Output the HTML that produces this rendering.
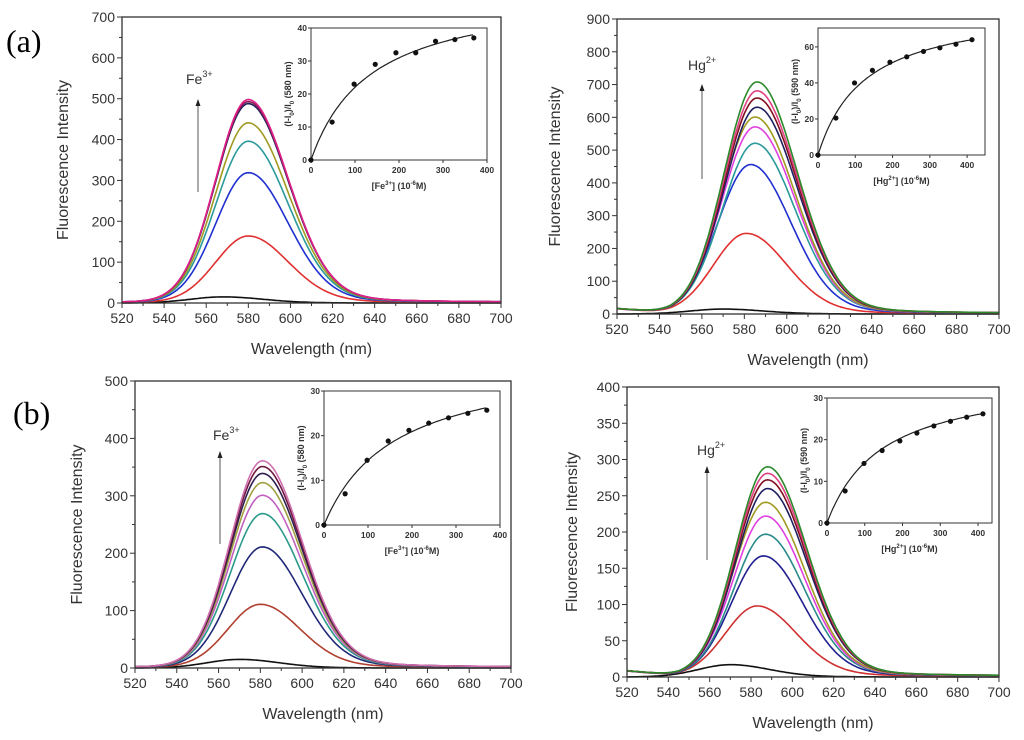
<!DOCTYPE html>
<html><head><meta charset="utf-8"><style>
body{margin:0;background:#fff;width:1024px;height:740px;overflow:hidden;font-family:"Liberation Sans",sans-serif}
svg{position:absolute;left:0;top:0}
</style></head><body>
<svg id="fig" width="1024" height="740" xmlns="http://www.w3.org/2000/svg">
<text x="6" y="52" font-family="Liberation Serif" font-size="32">(a)</text>
<text x="13" y="424" font-family="Liberation Serif" font-size="32">(b)</text>
</svg>
<script>
// ---- data ----
const aPeaks=[15,163,318,395,440,487,492,497];
const aCenters=[568,580,580,580,580,580,580,580];
const aColors=["#111","#e03030","#2030d0","#2a9a9a","#a09a20","#202060","#8a1a50","#e0208a"];
const bPeaks=[15,245,455,520,570,600,630,658,680,707];
const bCenters=[570,581,583,585,585,585,586,586,586,586];
const bColors=["#111","#e03030","#2030d0","#2a9a9a","#e040e0","#a09a20","#202060","#801020","#e04080","#2a8a2a"];
const cPeaks=[15,110,210,268,300,322,338,350,360];
const cCenters=[570,580,581,581,581,581,581,581,581];
const cColors=["#111","#b04030","#202878","#2a9a8a","#c060c0","#a0a040","#302050","#701840","#d070b0"];
const dPeaks=[17,97,166,196,221,240,259,271,280,289];
const dCenters=[570,583,586,587,587,587,588,588,588,588];
const dColors=["#111","#d03030","#202090","#2a8a8a","#e040e0","#a09a20","#202060","#801020","#e04080","#2a8a2a"];
const aInsetX=[0,48,98,146,193,238,283,327,370];
const aInsetY=[0,11.5,23,29,32.5,32.5,36,36.5,37];
const aFit=[52,136];
const bInsetX=[0,48,98,146,193,238,283,327,370,413];
const bInsetY=[0,20.5,40,47,51.5,54.5,57.5,59.5,61.5,64];
const bFit=[83.5,125.6];
const cInsetX=[0,48,98,146,193,238,283,327,370];
const cInsetY=[0,7,14.5,18.8,21.2,22.8,24,25,25.7];
const cFit=[37.6,159.6];
const dInsetX=[0,48,98,146,193,238,283,327,370,413];
const dInsetY=[0,7.7,14.3,17.4,19.7,21.6,23.3,24.4,25.4,26.2];
const dFit=[35.5,145];
const xTicks=[520,540,560,580,600,620,640,660,680,700];

const NS="http://www.w3.org/2000/svg";
const svg=document.getElementById('fig');
function mk(tag,attrs,parent,txt){const e=document.createElementNS(NS,tag);for(const k in attrs)e.setAttribute(k,attrs[k]);if(txt!==undefined)e.textContent=txt;(parent||svg).appendChild(e);return e;}
function shape(x,c,p){const s=x<c?15.5:19;const d=x-c;const g=Math.exp(-d*d/(2*s*s));const l=1/(1+d*d/(s*s*1.8));const w=x<c?0.97:0.9;return p*(w*g+(1-w)*l);}

function panel(cfg){
  const g=mk('g',{});
  
  
  const X=v=>cfg.L+(v-520)/180*(cfg.R-cfg.L);
  const Y=v=>cfg.B-v/cfg.ymax*(cfg.B-cfg.T);
  cfg.peaks.forEach((p,i)=>{
    let d='';
    for(let x=520;x<=700;x+=1){const b=i===0?0:cfg.base*Math.max(0,(545-x)/25)+1;const v=shape(x,cfg.centers[i],p)+b;d+=(x===520?'M':'L')+X(x).toFixed(1)+','+Y(v).toFixed(1);}
    const pa=mk('path',{d:d,fill:'none',stroke:cfg.colors[i],'stroke-width':1.6},g);
    
    
  });
  const fr=mk('rect',{x:cfg.L,y:cfg.T,width:cfg.R-cfg.L,height:cfg.B-cfg.T,fill:'none',stroke:'#333','stroke-width':1.3},g);
  
  
  for(let v=520;v<=700;v+=10){mk('line',{x1:X(v),x2:X(v),y1:cfg.B,y2:cfg.B+(v%20===0?5:3),stroke:'#333'},g);}
  xTicks.forEach(v=>{const t=mk('text',{x:X(v),y:cfg.B+20,'font-size':14,'text-anchor':'middle',fill:'#333'},g,v);
    
    });
  for(let v=0;v<=cfg.ymax;v+=cfg.ystep/2){mk('line',{x1:cfg.L-(v%cfg.ystep===0?5:3),x2:cfg.L,y1:Y(v),y2:Y(v),stroke:'#333'},g);}
  for(let v=0;v<=cfg.ymax;v+=cfg.ystep){const t=mk('text',{x:cfg.L-7,y:Y(v)+5,'font-size':14,'text-anchor':'end',fill:'#333'},g,v);
    
    }
  const xt=mk('text',{x:(cfg.L+cfg.R)/2,y:cfg.B+51,'font-size':16,'text-anchor':'middle',fill:'#333'},g,'Wavelength (nm)');
  
  
  const yc=(cfg.T+cfg.B)/2;
  const yt=mk('text',{x:cfg.ytx,y:yc,'font-size':16,'text-anchor':'middle',fill:'#333',transform:`rotate(-90 ${cfg.ytx} ${yc})`},g,'Fluorescence Intensity');
  
  
  const ar=mk('line',{x1:cfg.arX,x2:cfg.arX,y1:cfg.arY1,y2:cfg.arY2+5,stroke:'#555','stroke-width':1},g);
  
  
  mk('path',{d:`M${cfg.arX-2.5},${cfg.arY2+6}L${cfg.arX},${cfg.arY2-1}L${cfg.arX+2.5},${cfg.arY2+6}Z`,fill:'#222'},g);
  const lb=mk('text',{x:cfg.lbX,y:cfg.lbY,'font-size':14,fill:'#333'},g);
  
  
  mk('tspan',{},lb,cfg.ion);
  mk('tspan',{'font-size':9,dy:-7},lb,cfg.charge);
  const I=cfg.inset;
  const ix=v=>I.L+v/I.xmax*(I.R-I.L);
  const iy=v=>I.B-v/I.ymax*(I.B-I.T);
  const ig=mk('g',{},g);
  
  
  mk('rect',{x:I.L,y:I.T,width:I.R-I.L,height:I.B-I.T,fill:'#fff',stroke:'#333','stroke-width':1},ig);
  for(let v=0;v<=I.xmax;v+=100){if(ix(v)>I.R+1)break;mk('line',{x1:ix(v),x2:ix(v),y1:I.B,y2:I.B+3,stroke:'#333'},ig);
    mk('text',{x:ix(v),y:I.B+13,'font-size':8.5,'font-weight':'bold','text-anchor':'middle',fill:'#333'},ig,v);}
  for(let v=0;v<=I.ymax;v+=I.ystep){mk('line',{x1:I.L-3,x2:I.L,y1:iy(v),y2:iy(v),stroke:'#333'},ig);
    mk('text',{x:I.L-4,y:iy(v)+3,'font-size':8.5,'font-weight':'bold','text-anchor':'end',fill:'#333'},ig,v);}
  const fit=cfg.fit;let d='';
  const xe=cfg.ix[cfg.ix.length-1];
  for(let x=0;x<=xe;x+=4){const v=fit[0]*x/(fit[1]+x);d+=(x===0?'M':'L')+ix(x).toFixed(1)+','+iy(v).toFixed(1);}
  const fp=mk('path',{d:d,fill:'none',stroke:'#222','stroke-width':1.2},ig);
  
  
  cfg.ix.forEach((x,i)=>{const c=mk('circle',{cx:ix(x),cy:iy(cfg.iy[i]),r:2.6,fill:'#111'},ig);
    
    });
  const ixt=mk('text',{x:(I.L+I.R)/2,y:I.B+29,'font-size':9,'font-weight':'bold','text-anchor':'middle',fill:'#333'},ig);
  
  
  mk('tspan',{},ixt,'['+cfg.ion);mk('tspan',{'font-size':6,dy:-4},ixt,cfg.charge);mk('tspan',{dy:4},ixt,'] (10');mk('tspan',{'font-size':6,dy:-4},ixt,'-6');mk('tspan',{dy:4},ixt,'M)');
  const iyc=(I.T+I.B)/2,iyx=I.L-20;
  const iyt=mk('text',{x:iyx,y:iyc,'font-size':9,'font-weight':'bold','text-anchor':'middle',fill:'#333',transform:`rotate(-90 ${iyx} ${iyc})`},ig);
  
  
  mk('tspan',{},iyt,'(I-I');mk('tspan',{'font-size':6,dy:3},iyt,'0');mk('tspan',{dy:-3},iyt,')/I');mk('tspan',{'font-size':6,dy:3},iyt,'0');mk('tspan',{dy:-3},iyt,' ('+cfg.nm+' nm)');
}

panel({name:'panel-a-fe',L:122,R:501,T:17,B:303,ymax:700,ystep:100,peaks:aPeaks,centers:aCenters,colors:aColors,base:0,ytx:68,
  arX:198,arY1:192,arY2:100,lbX:186,lbY:84,ion:'Fe',charge:'3+',fit:aFit,ix:aInsetX,iy:aInsetY,nm:580,
  inset:{L:311,R:487,T:28,B:160,xmax:400,ymax:40,ystep:10}});
panel({name:'panel-a-hg',L:617,R:999,T:19,B:314,ymax:900,ystep:100,peaks:bPeaks,centers:bCenters,colors:bColors,base:14,ytx:560,
  arX:702,arY1:179,arY2:85,lbX:688,lbY:70,ion:'Hg',charge:'2+',fit:bFit,ix:bInsetX,iy:bInsetY,nm:590,
  inset:{L:818,R:985,T:28,B:155,xmax:448,ymax:70.5,ystep:20}});
panel({name:'panel-b-fe',L:135,R:511,T:381,B:668,ymax:500,ystep:100,peaks:cPeaks,centers:cCenters,colors:cColors,base:0,ytx:82,
  arX:220,arY1:544,arY2:452,lbX:213,lbY:440,ion:'Fe',charge:'3+',fit:cFit,ix:cInsetX,iy:cInsetY,nm:580,
  inset:{L:324,R:500,T:391,B:525,xmax:400,ymax:30,ystep:10}});
panel({name:'panel-b-hg',L:627,R:999,T:387,B:677,ymax:400,ystep:50,peaks:dPeaks,centers:dCenters,colors:dColors,base:7,ytx:577,
  arX:707,arY1:560,arY2:467,lbX:697,lbY:455,ion:'Hg',charge:'2+',fit:dFit,ix:dInsetX,iy:dInsetY,nm:590,
  inset:{L:827,R:992,T:398,B:523,xmax:437,ymax:30,ystep:10}});
</script>
</body></html>
